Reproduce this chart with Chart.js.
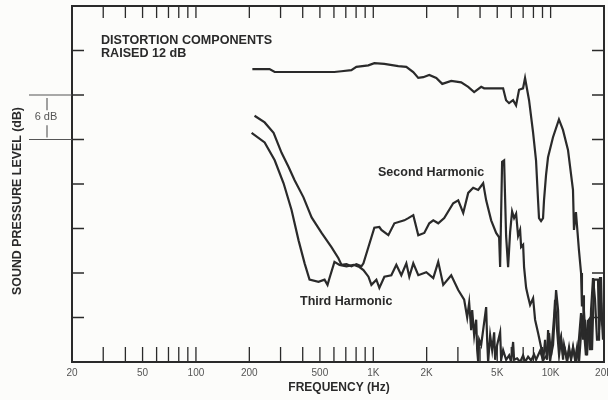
<!DOCTYPE html>
<html lang="en">
<head>
  <meta charset="UTF-8" />
  <title>Distortion Components</title>
  <style>
    * { margin: 0; padding: 0; box-sizing: border-box; }
    body { background: #fcfcfa; }
    .wrap { width: 608px; height: 400px; position: relative; }
  </style>
</head>
<body>
  <div class="wrap"><canvas id="chart"></canvas></div>

  <script src="https://cdn.jsdelivr.net/npm/chart.js"></script>
  <script>
    // fundamental response (Hz / dB)
    const mainFreq = [208, 260, 278, 603, 661, 752, 803, 938, 1014, 1154, 1383, 1535, 1680, 1793, 1913, 2068, 2266, 2449, 2751, 3131,
      3429, 3705, 4058, 4218, 5396, 5608, 5830, 6141, 6385, 6637, 6991, 7175, 7558, 7959, 8274, 8494, 8600, 8831, 9063, 9177,
      9422, 9669, 10314, 11143, 11737, 12530, 13370, 13543, 13893, 14444, 14846, 15020, 15235, 15413, 15816];
    const mainDb = [39.5, 39.5, 39.1, 39.1, 39.2, 39.35, 39.8, 40.0, 40.3, 40.2, 39.9, 39.8, 39.1, 38.3, 38.4, 38.7, 38.3, 37.5, 37.9, 37.7,
      37.1, 36.4, 37.1, 36.9, 36.9, 35.3, 34.9, 35.3, 34.6, 36.7, 36.9, 38.3, 35.3, 31.0, 27.2, 21.8, 19.4, 19.0, 19.4, 21.8,
      25.2, 27.6, 30.3, 32.7, 31.3, 28.6, 23.2, 17.8, 20.2, 15.1, 12.0, 7.5, 9.0, 4.3, 0.9];

    // second harmonic (raised 12 dB)
    const secondFreq = [214, 244, 274, 304, 333, 360, 404, 449, 511, 581, 636, 662, 706, 753, 803, 857, 880, 939, 1014, 1082,
      1111, 1216, 1315, 1496, 1576, 1681, 1794, 1939, 2069, 2179, 2324, 2512, 2823, 3013, 3215, 3430, 3659, 3904, 4166, 4331,
      4621, 4930, 5125, 5191, 5259, 5327, 5468, 5539, 5611, 5758, 5910, 6065, 6225, 6390, 6555, 6729, 6818, 6997, 7085, 7275,
      7466, 7661, 7966, 8174, 8499, 8837, 9068, 9306, 9552, 9802, 10061, 10459, 10595, 10875, 11160, 11454, 11754, 12062, 12380, 12705,
      13040, 13382, 13914, 14279, 14846, 15235, 15634, 16047, 16467, 16902, 17122, 17571, 18507, 18748, 19242, 19746, 20000];
    const secondDb = [33.2, 32.3, 30.9, 28.2, 26.3, 24.5, 22.2, 19.5, 17.4, 15.5, 14.0, 13.1, 13.2, 12.9, 13.2, 12.9, 13.3, 15.5, 18.1, 18.2,
      17.8, 17.1, 18.7, 19.1, 19.4, 19.8, 17.1, 17.4, 18.7, 19.1, 18.7, 19.4, 21.4, 21.8, 20.1, 22.8, 23.5, 23.2, 24.1, 21.8,
      19.1, 17.4, 16.8, 12.8, 20.0, 27.0, 27.2, 22.0, 17.0, 12.8, 17.5, 20.3, 19.4, 20.0, 17.0, 17.8, 15.5, 15.8, 12.8, 10.0,
      8.8, 7.7, 8.6, 5.7, 3.9, 2.0, 0.0, 3.0, 0.3, 3.9, 0.9, 6.1, 8.4, 4.3, 0.9, 3.0, 0.9, 1.6, 0.0, 1.6,
      0.5, 1.9, 0.0, 1.6, 6.6, 3.0, 5.7, 0.9, 5.7, 6.1, 1.6, 11.1, 11.1, 4.3, 8.0, 3.0, 4.7];

    // third harmonic (raised 12 dB)
    const thirdFreq = [206, 244, 278, 312, 346, 379, 410, 437, 491, 531, 552, 566, 604, 645, 706, 773, 835, 880, 939, 976,
      1041, 1082, 1155, 1264, 1349, 1439, 1536, 1596, 1681, 1794, 1990, 2179, 2324, 2480, 2751, 3013, 3255, 3385, 3473, 3565,
      3612, 3706, 3804, 3854, 3904, 3955, 4058, 4164, 4330, 4386, 4443, 4560, 4681, 4804, 4866, 4994, 5192, 5260, 5398, 5613,
      5835, 5988, 6145, 6225, 6473, 6729, 6997, 7180, 7466, 7762, 8069, 8282, 8722, 9068, 9552, 9676, 9930, 10325, 10735, 11016,
      11160, 11454, 11754, 11908, 12380, 12705, 13040, 13382, 13732, 14095, 14465, 15040, 15434, 15840, 16255, 16681, 16902, 17345, 17800, 18269,
      18748, 18992, 19242, 19493, 20000];
    const thirdDb = [30.9, 29.6, 27.2, 24.1, 20.5, 16.4, 13.3, 11.1, 10.8, 11.1, 10.4, 11.3, 13.5, 13.1, 12.9, 13.1, 12.8, 12.4, 11.5, 10.4,
      11.1, 10.0, 11.5, 11.7, 13.1, 11.7, 13.3, 11.5, 13.3, 11.7, 12.1, 11.3, 13.5, 10.4, 11.7, 9.7, 8.4, 6.0, 8.0, 4.3,
      7.0, 3.6, 5.7, 1.6, 0.0, 3.0, 2.3, 4.3, 7.4, 3.0, 0.0, 3.6, 1.6, 4.0, 0.3, 2.3, 4.0, 0.3, 1.6, 0.3,
      0.9, 0.0, 2.7, 0.3, 0.5, 0.0, 0.9, 0.0, 0.7, 0.2, 1.0, 0.3, 1.5, 0.3, 0.9, 4.3, 0.3, 2.3, 9.7, 7.0,
      2.3, 3.4, 0.3, 2.3, 0.3, 2.0, 0.3, 2.0, 0.3, 2.0, 0.0, 5.7, 6.6, 2.3, 5.7, 1.6, 7.0, 11.3, 8.4, 3.0,
      3.0, 11.3, 11.3, 5.7, 6.6];

    // axis ticks
    const xLabelValues = [20, 50, 100, 200, 500, 1000, 2000, 5000, 10000, 20000];
    const xLabels = ['20', '50', '100', '200', '500', '1K', '2K', '5K', '10K', '20K'];
    const xMinorTicks = [30, 40, 50, 60, 70, 80, 90, 100, 200, 300, 400, 500, 600, 700, 800, 900, 1000,
      2000, 3000, 4000, 5000, 6000, 7000, 8000, 9000, 10000];
    const yTicks = [6, 12, 18, 24, 30, 36, 42];

    const ink = '#2a2a2a';
    const font = '"Liberation Sans", Arial, Helvetica, sans-serif';

    function pairs(xs, ys) {
      return xs.map((f, i) => ({ x: f, y: ys[i] }));
    }

    const decor = {
      id: 'decor',
      beforeDatasetsDraw(chart) {
        const { ctx, chartArea: a, scales: { x, y } } = chart;
        ctx.save();
        ctx.strokeStyle = ink;

        // tick marks point into the plot
        ctx.lineWidth = 1.3;
        ctx.beginPath();
        xMinorTicks.forEach(v => {
          const px = x.getPixelForValue(v);
          ctx.moveTo(px, a.bottom); ctx.lineTo(px, a.bottom - 15);
          ctx.moveTo(px, a.top); ctx.lineTo(px, a.top + 12);
        });
        yTicks.forEach(v => {
          const py = y.getPixelForValue(v);
          ctx.moveTo(a.left, py); ctx.lineTo(a.left + 12, py);
          ctx.moveTo(a.right, py); ctx.lineTo(a.right - 12, py);
        });
        ctx.stroke();

        // frame
        ctx.lineWidth = 2;
        ctx.strokeRect(a.left, a.top, a.right - a.left, a.bottom - a.top);

        // 6 dB bracket
        const y36 = y.getPixelForValue(36), y30 = y.getPixelForValue(30);
        const mid = (y36 + y30) / 2;
        ctx.lineWidth = 1.1;
        ctx.strokeStyle = '#555';
        ctx.beginPath();
        ctx.moveTo(29, y36); ctx.lineTo(a.left, y36);
        ctx.moveTo(29, y30); ctx.lineTo(a.left, y30);
        ctx.moveTo(47, y36 + 3); ctx.lineTo(47, mid - 7);
        ctx.moveTo(47, mid + 8); ctx.lineTo(47, y30 - 2);
        ctx.stroke();
        ctx.fillStyle = '#555';
        ctx.font = '11px ' + font;
        ctx.textAlign = 'center';
        ctx.textBaseline = 'middle';
        ctx.fillText('6 dB', 46, mid);
        ctx.restore();
      },
      afterDraw(chart) {
        const { ctx, chartArea: a, scales: { x } } = chart;
        ctx.save();
        ctx.textBaseline = 'middle';
        ctx.textAlign = 'center';

        // x tick labels
        ctx.fillStyle = '#555';
        ctx.font = '10px ' + font;
        xLabelValues.forEach((v, i) => {
          ctx.fillText(xLabels[i], x.getPixelForValue(v), a.bottom + 11);
        });

        ctx.fillStyle = ink;
        ctx.font = 'bold 12px ' + font;
        ctx.fillText('FREQUENCY (Hz)', 339, 388);

        ctx.save();
        ctx.translate(18, 201);
        ctx.rotate(-Math.PI / 2);
        ctx.font = 'bold 12.4px ' + font;
        ctx.fillText('SOUND PRESSURE LEVEL (dB)', 0, 0);
        ctx.restore();

        ctx.textAlign = 'left';
        ctx.font = 'bold 12.6px ' + font;
        ctx.fillText('DISTORTION COMPONENTS', 101, 41);
        ctx.fillText('RAISED 12 dB', 101, 54);
        ctx.font = 'bold 12.5px ' + font;
        ctx.fillText('Second Harmonic', 378, 173);
        ctx.fillText('Third Harmonic', 300, 302);
        ctx.restore();
      }
    };

    const lineStyle = { borderColor: ink, borderWidth: 2.2, pointRadius: 0, tension: 0, fill: false };

    new Chart(document.getElementById('chart'), {
      type: 'line',
      data: {
        datasets: [
          { label: 'Response', data: pairs(mainFreq, mainDb), ...lineStyle },
          { label: 'Second Harmonic', data: pairs(secondFreq, secondDb), ...lineStyle },
          { label: 'Third Harmonic', data: pairs(thirdFreq, thirdDb), ...lineStyle }
        ]
      },
      options: {
        responsive: true,
        maintainAspectRatio: false,
        animation: false,
        layout: { padding: { left: 72, top: 6, right: 4, bottom: 38 } },
        scales: {
          x: { type: 'logarithmic', min: 20, max: 20000, display: false },
          y: { type: 'linear', min: 0, max: 48, display: false }
        },
        plugins: { legend: { display: false }, tooltip: { enabled: false } }
      },
      plugins: [decor]
    });
  </script>
</body>
</html>
